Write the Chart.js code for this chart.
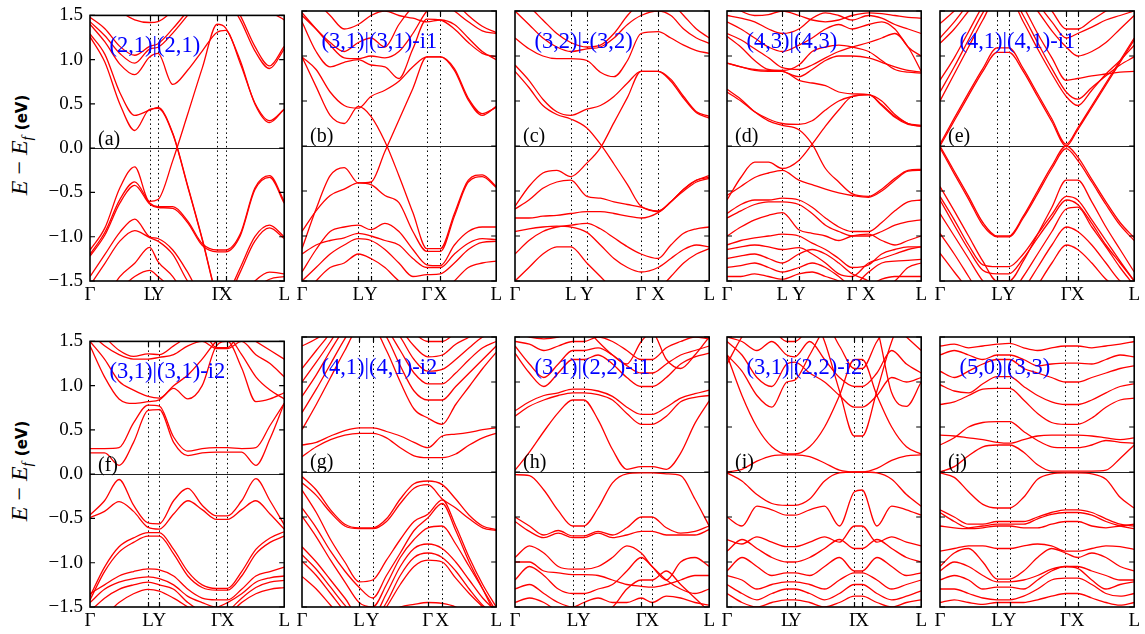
<!DOCTYPE html>
<html>
<head>
<meta charset="utf-8">
<script src="https://cdn.jsdelivr.net/npm/chart.js@4.4.1/dist/chart.umd.min.js"></script>
<style>
html, body { margin: 0; padding: 0; background: #fff; }
body { position: relative; width: 1145px; height: 634px; overflow: hidden; }
canvas { position: absolute; }
.ylab { position: absolute; white-space: nowrap; transform: translate(-50%, -50%) rotate(-90deg);
        font-family: "Liberation Serif", serif; font-size: 24px; color: #000; line-height: 1; }
.ylab .op { margin: 0 6px; font-style: normal; }
.ylab sub { font-size: 15px; vertical-align: -5px; line-height: 0; }
.ylab b { font-family: "DejaVu Sans", sans-serif; font-size: 15px; font-weight: bold; margin-left: 6px; }
</style>
</head>
<body>
<div class="ylab" style="left:19px;top:145px"><i>E</i><span class="op">−</span><i>E</i><sub><i>f</i></sub><b>(eV)</b></div>
<div class="ylab" style="left:19px;top:471px"><i>E</i><span class="op">−</span><i>E</i><sub><i>f</i></sub><b>(eV)</b></div>
<script>
// High-symmetry path labels, shared by every panel
const kLabels = ['Γ', 'L', 'Y', 'Γ', 'X', 'L'];

// Positions of the high-symmetry points along each path (fraction of path length)
const kptsA = [0, 0.307, 0.350, 0.655, 0.698, 1];
const kptsB = [0, 0.290, 0.355, 0.643, 0.713, 1];
const kptsC = [0, 0.287, 0.370, 0.649, 0.737, 1];
const kptsD = [0, 0.285, 0.370, 0.644, 0.729, 1];
const kptsE = [0, 0.294, 0.355, 0.650, 0.709, 1];
const kptsF = [0, 0.299, 0.357, 0.651, 0.708, 1];
const kptsG = [0, 0.294, 0.364, 0.648, 0.722, 1];
const kptsH = [0, 0.297, 0.354, 0.650, 0.706, 1];
const kptsI = [0, 0.308, 0.349, 0.656, 0.696, 1];
const kptsJ = [0, 0.294, 0.359, 0.646, 0.709, 1];

const titles = ['(2,1)|(2,1)', '(3,1)|(3,1)-i1', '(3,2)|-(3,2)', '(4,3)|(4,3)', '(4,1)|(4,1)-i1',
                '(3,1)|(3,1)-i2', '(4,1)|(4,1)-i2', '(3,1)|(2,2)-i1', '(3,1)|(2,2)-i2', '(5,0)|(3,3)'];
const letters = ['(a)', '(b)', '(c)', '(d)', '(e)', '(f)', '(g)', '(h)', '(i)', '(j)'];

// Band energies (eV) sampled along Γ–L–Y–Γ–X–L:
// Γ, 3 points on Γ–L, L, Y, 3 points on Y–Γ, Γ, X, 3 points on X–L, L
const bandsA = [
  [1.26, 0.97, 0.5, 0.2, 0.44, 0.45, 0.16, -0.43, -1.04, -1.7, -1.9, -1.9, -1.9, -1.9, -1.9],
  [1.29, 1.06, 0.63, 0.37, 0.43, 0.46, 0.17, -0.42, -1.03, -1.69, -1.9, -1.9, -1.9, -1.9, -1.9],
  [1.40, 1.2, 0.95, 0.83, 1.03, 1.07, 0.72, 0.88, 1.1, 1.31, 1.33, 0.96, 0.51, 0.31, 0.44],
  [1.43, 1.27, 1.07, 0.96, 1.12, 1.14, 1.3, 1.5, 1.7, 1.8, 1.7, 1.45, 1.1, 0.9, 1.12],
  [1.48, 1.35, 1.15, 1.05, 1.15, 1.18, 1.35, 1.55, 1.75, 1.85, 1.75, 1.5, 1.15, 0.93, 1.15],
  [1.8, 1.7, 1.55, 1.45, 1.42, 1.43, 1.55, 1.7, 1.8, 1.8, 1.8, 1.8, 1.7, 1.55, 1.45],
  [-1.15, -0.9, -0.45, -0.21, -0.6, -0.58, -0.14, 0.38, 0.91, 1.40, 1.36, 0.99, 0.5, 0.29, 0.44],
  [-1.2, -0.95, -0.58, -0.38, -0.62, -0.66, -0.66, -0.82, -1.08, -1.15, -1.15, -0.97, -0.45, -0.31, -0.6],
  [-1.22, -0.98, -0.62, -0.42, -0.63, -0.67, -0.68, -0.84, -1.1, -1.17, -1.17, -0.99, -0.47, -0.33, -0.62],
  [-1.45, -1.2, -0.95, -0.8, -1.0, -1.02, -1.15, -1.4, -1.7, -1.8, -1.7, -1.35, -1.0, -0.87, -1.0],
  [-1.55, -1.3, -1.05, -0.93, -1.01, -1.05, -1.2, -1.5, -1.7, -1.8, -1.75, -1.4, -1.05, -0.9, -1.02],
  [-1.8, -1.7, -1.45, -1.3, -1.12, -1.28, -1.45, -1.7, -1.8, -1.8, -1.8, -1.7, -1.5, -1.4, -1.42],
  [-1.9, -1.8, -1.6, -1.45, -1.38, -1.45, -1.6, -1.8, -1.9, -1.9, -1.9, -1.8, -1.6, -1.48, -1.45]
];
const bandsB = [
  [0.99, 0.66, 0.34, 0.25, 0.44, 0.33, 0.05, -0.33, -0.74, -1.14, -1.14, -0.75, -0.38, -0.32, -0.45],
  [0.99, 0.85, 0.6, 0.45, 0.42, 0.55, 0.62, 0.72, 0.88, 0.99, 0.99, 0.86, 0.53, 0.36, 0.43],
  [-1.14, -0.7, -0.33, -0.24, -0.41, -0.40, -0.06, 0.29, 0.64, 0.99, 0.99, 0.84, 0.51, 0.34, 0.44],
  [-0.95, -0.72, -0.55, -0.48, -0.41, -0.43, -0.55, -0.63, -0.95, -1.17, -1.17, -0.78, -0.4, -0.34, -0.46],
  [1.38, 1.05, 0.88, 0.93, 0.96, 0.9, 0.88, 0.75, 1.08, 1.41, 1.40, 1.3, 1.15, 1.03, 0.99],
  [1.48, 1.3, 1.12, 0.98, 0.97, 1.0, 0.98, 1.05, 1.25, 1.5, 1.6, 1.5, 1.38, 1.28, 1.25],
  [1.45, 1.3, 1.15, 1.05, 1.15, 1.2, 1.1, 1.35, 1.55, 1.7, 1.7, 1.6, 1.45, 1.33, 1.26],
  [1.7, 1.6, 1.45, 1.3, 1.35, 1.45, 1.5, 1.45, 1.42, 1.38, 1.4, 1.35, 1.2, 1.05, 0.96],
  [-1.4, -1.15, -0.95, -0.9, -0.88, -0.93, -0.86, -0.95, -1.15, -1.32, -1.33, -1.1, -0.95, -0.9, -0.9],
  [-1.2, -1.1, -1.05, -1.02, -0.97, -1.0, -1.05, -1.1, -1.25, -1.35, -1.35, -1.2, -1.08, -1.03, -1.04],
  [-1.5, -1.35, -1.2, -1.1, -1.03, -1.05, -1.15, -1.3, -1.45, -1.43, -1.42, -1.3, -1.15, -1.07, -1.06],
  [-1.7, -1.5, -1.35, -1.3, -1.2, -1.25, -1.35, -1.5, -1.6, -1.7, -1.65, -1.5, -1.35, -1.3, -1.28]
];
const bandsC = [
  [0.83, 0.65, 0.45, 0.35, 0.3, 0.2, 0.02, -0.2, -0.43, -0.67, -0.72, -0.62, -0.48, -0.38, -0.33],
  [0.9, 0.73, 0.52, 0.38, 0.34, 0.41, 0.45, 0.55, 0.7, 0.83, 0.83, 0.74, 0.55, 0.38, 0.33],
  [-0.67, -0.45, -0.3, -0.27, -0.34, -0.19, -0.02, 0.26, 0.54, 0.83, 0.83, 0.72, 0.53, 0.37, 0.31],
  [-0.7, -0.6, -0.47, -0.4, -0.38, -0.56, -0.58, -0.62, -0.65, -0.68, -0.73, -0.62, -0.48, -0.38, -0.35],
  [-0.8, -0.8, -0.78, -0.77, -0.75, -0.73, -0.73, -0.75, -0.78, -0.8, -0.74, -0.62, -0.5, -0.4, -0.36],
  [-1.2, -1.05, -0.95, -0.9, -0.88, -0.86, -0.92, -1.02, -1.12, -1.2, -1.25, -1.1, -0.97, -0.92, -0.9],
  [-0.95, -0.92, -0.9, -0.89, -0.9, -0.96, -1.1, -1.25, -1.35, -1.4, -1.35, -1.25, -1.15, -1.1, -1.12],
  [-1.5, -1.35, -1.2, -1.12, -1.12, -1.3, -1.45, -1.6, -1.7, -1.7, -1.6, -1.45, -1.3, -1.2, -1.14],
  [1.2, 1.08, 1.0, 0.97, 0.97, 0.95, 0.82, 0.77, 0.95, 1.25, 1.27, 1.2, 1.12, 1.06, 1.03],
  [1.5, 1.35, 1.2, 1.1, 1.05, 1.08, 1.1, 1.2, 1.35, 1.45, 1.5, 1.45, 1.3, 1.2, 1.14],
  [1.65, 1.55, 1.4, 1.25, 1.15, 1.1, 1.12, 1.25, 1.45, 1.6, 1.7, 1.6, 1.45, 1.3, 1.2]
];
const bandsD = [
  [0.63, 0.52, 0.38, 0.28, 0.23, 0.18, 0.02, -0.25, -0.4, -0.53, -0.56, -0.48, -0.36, -0.27, -0.26],
  [-0.6, -0.35, -0.18, -0.18, -0.25, -0.16, 0.02, 0.22, 0.4, 0.55, 0.57, 0.45, 0.32, 0.24, 0.22],
  [0.6, 0.5, 0.38, 0.3, 0.25, 0.24, 0.28, 0.4, 0.5, 0.55, 0.57, 0.46, 0.33, 0.25, 0.23],
  [0.92, 0.88, 0.84, 0.83, 0.83, 0.73, 0.7, 0.67, 0.6, 0.58, 0.57, 0.5, 0.35, 0.25, 0.22],
  [0.92, 0.88, 0.85, 0.84, 0.83, 0.77, 0.85, 0.95, 1.0, 1.0, 0.98, 0.93, 0.88, 0.84, 0.82],
  [1.22, 1.1, 0.95, 0.85, 0.84, 0.9, 1.05, 1.1, 1.12, 1.1, 1.05, 0.95, 0.85, 0.82, 0.81],
  [1.25, 1.18, 1.08, 0.98, 0.87, 0.85, 0.9, 0.98, 1.05, 1.1, 1.15, 1.2, 1.25, 1.1, 0.83],
  [1.38, 1.3, 1.2, 1.1, 1.05, 1.12, 1.2, 1.3, 1.35, 1.3, 1.35, 1.38, 1.3, 1.1, 1.0],
  [1.45, 1.42, 1.38, 1.3, 1.25, 1.3, 1.42, 1.48, 1.45, 1.4, 1.45, 1.42, 1.35, 1.3, 1.25],
  [1.6, 1.5, 1.45, 1.46, 1.5, 1.45, 1.4, 1.38, 1.4, 1.45, 1.48, 1.47, 1.45, 1.43, 1.42],
  [-0.55, -0.45, -0.35, -0.3, -0.27, -0.38, -0.43, -0.48, -0.52, -0.55, -0.57, -0.5, -0.38, -0.28, -0.27],
  [-0.75, -0.65, -0.6, -0.6, -0.58, -0.6, -0.68, -0.8, -0.9, -0.95, -0.95, -0.85, -0.72, -0.62, -0.6],
  [-0.8, -0.72, -0.65, -0.62, -0.62, -0.65, -0.75, -0.88, -0.95, -1.0, -1.0, -0.95, -0.88, -0.84, -0.82],
  [-1.0, -0.9, -0.82, -0.77, -0.74, -0.93, -0.97, -1.0, -1.05, -1.0, -0.98, -1.05, -1.1, -1.05, -1.0],
  [-1.1, -1.05, -1.02, -1.0, -0.98, -1.0, -1.08, -1.15, -1.25, -1.35, -1.32, -1.2, -1.15, -1.12, -1.12],
  [-1.15, -1.12, -1.1, -1.12, -1.15, -1.13, -1.2, -1.3, -1.42, -1.45, -1.3, -1.25, -1.2, -1.15, -1.12],
  [-1.25, -1.22, -1.2, -1.25, -1.3, -1.2, -1.15, -1.2, -1.3, -1.42, -1.5, -1.6, -1.5, -1.35, -1.3],
  [-1.35, -1.33, -1.3, -1.35, -1.4, -1.35, -1.3, -1.35, -1.45, -1.55, -1.4, -1.3, -1.28, -1.27, -1.26],
  [-1.45, -1.45, -1.42, -1.45, -1.48, -1.42, -1.4, -1.45, -1.5, -1.6, -1.55, -1.48, -1.45, -1.45, -1.45]
];
const bandsE = [
  [0.0, 0.28, 0.56, 0.83, 1.04, 1.04, 0.83, 0.55, 0.27, 0.0, 0.18, 0.43, 0.68, 0.93, 1.18],
  [0.02, 0.31, 0.59, 0.86, 1.09, 1.09, 0.86, 0.58, 0.3, 0.02, 0.2, 0.45, 0.7, 0.95, 1.2],
  [0.5, 0.8, 1.1, 1.4, 1.65, 1.65, 1.38, 1.08, 0.8, 0.55, 0.45, 0.62, 0.8, 0.95, 1.12],
  [0.6, 0.88, 1.18, 1.48, 1.7, 1.7, 1.45, 1.15, 0.86, 0.6, 0.52, 0.65, 0.78, 0.9, 0.99],
  [0.73, 0.98, 1.27, 1.56, 1.8, 1.8, 1.55, 1.25, 0.98, 0.73, 0.75, 0.78, 0.8, 0.82, 0.83],
  [1.14, 1.3, 1.5, 1.7, 1.8, 1.8, 1.7, 1.5, 1.28, 1.1, 1.0, 1.05, 1.15, 1.3, 1.45],
  [1.2, 1.38, 1.58, 1.75, 1.8, 1.8, 1.75, 1.58, 1.38, 1.2, 1.25, 1.32, 1.4, 1.45, 1.5],
  [1.36, 1.5, 1.65, 1.8, 1.9, 1.9, 1.85, 1.7, 1.5, 1.3, 1.3, 1.4, 1.5, 1.6, 1.7],
  [0.0, -0.28, -0.56, -0.85, -1.0, -1.0, -0.78, -0.5, -0.22, 0.0, -0.12, -0.37, -0.62, -0.85, -1.02],
  [-0.02, -0.31, -0.59, -0.88, -1.01, -1.01, -0.8, -0.53, -0.25, -0.03, -0.16, -0.4, -0.65, -0.88, -1.05],
  [-0.45, -0.72, -1.0, -1.28, -1.5, -1.5, -1.28, -0.98, -0.68, -0.38, -0.38, -0.62, -0.9, -1.15, -1.4],
  [-0.56, -0.82, -1.1, -1.32, -1.34, -1.34, -1.2, -0.98, -0.76, -0.56, -0.6, -0.82, -1.05, -1.28, -1.5],
  [-0.6, -0.88, -1.15, -1.38, -1.42, -1.42, -1.25, -1.02, -0.8, -0.6, -0.65, -0.86, -1.1, -1.3, -1.5],
  [-0.75, -1.0, -1.25, -1.5, -1.65, -1.65, -1.45, -1.2, -0.95, -0.7, -0.68, -0.9, -1.12, -1.35, -1.55],
  [-0.97, -1.2, -1.45, -1.7, -1.8, -1.8, -1.6, -1.35, -1.1, -0.9, -0.95, -1.1, -1.3, -1.5, -1.6],
  [-1.19, -1.4, -1.6, -1.8, -1.9, -1.9, -1.8, -1.55, -1.3, -1.1, -1.15, -1.3, -1.48, -1.6, -1.7]
];
const bandsF = [
  [0.24, 0.24, 0.1, 0.36, 0.72, 0.73, 0.36, 0.21, 0.24, 0.25, 0.25, 0.25, 0.1, 0.4, 0.8],
  [0.29, 0.29, 0.3, 0.58, 0.78, 0.77, 0.42, 0.26, 0.29, 0.3, 0.3, 0.29, 0.3, 0.55, 0.8],
  [1.45, 1.1, 0.85, 0.8, 0.82, 0.84, 0.97, 0.85, 1.0, 1.45, 1.5, 1.2, 0.82, 0.85, 0.92],
  [1.5, 1.3, 1.05, 0.95, 0.88, 0.86, 1.0, 1.12, 1.3, 1.5, 1.55, 1.35, 1.1, 0.95, 0.85],
  [1.6, 1.45, 1.35, 1.3, 1.3, 1.32, 1.35, 1.45, 1.5, 1.42, 1.42, 1.5, 1.35, 1.25, 1.1],
  [1.7, 1.55, 1.4, 1.33, 1.36, 1.35, 1.45, 1.55, 1.6, 1.43, 1.43, 1.6, 1.5, 1.4, 1.3],
  [-0.46, -0.3, -0.06, -0.35, -0.55, -0.56, -0.3, -0.16, -0.35, -0.47, -0.47, -0.3, -0.05, -0.3, -0.57],
  [-0.49, -0.42, -0.31, -0.42, -0.6, -0.62, -0.45, -0.3, -0.4, -0.51, -0.51, -0.4, -0.3, -0.45, -0.62],
  [-1.38, -1.05, -0.82, -0.72, -0.66, -0.66, -0.85, -1.1, -1.25, -1.29, -1.29, -1.1, -0.85, -0.72, -0.65],
  [-1.42, -1.1, -0.88, -0.77, -0.7, -0.7, -0.9, -1.15, -1.28, -1.31, -1.31, -1.15, -0.9, -0.77, -0.7],
  [-1.35, -1.25, -1.15, -1.1, -1.07, -1.08, -1.15, -1.3, -1.4, -1.42, -1.42, -1.3, -1.15, -1.1, -1.05],
  [-1.45, -1.3, -1.22, -1.18, -1.16, -1.18, -1.25, -1.38, -1.45, -1.5, -1.45, -1.35, -1.22, -1.17, -1.15],
  [-1.55, -1.4, -1.3, -1.25, -1.22, -1.25, -1.3, -1.45, -1.55, -1.6, -1.55, -1.4, -1.28, -1.22, -1.2],
  [-1.7, -1.6, -1.45, -1.35, -1.3, -1.32, -1.4, -1.5, -1.6, -1.7, -1.6, -1.45, -1.35, -1.3, -1.28]
];
const bandsG = [
  [0.17, 0.28, 0.36, 0.41, 0.43, 0.43, 0.38, 0.27, 0.18, 0.16, 0.16, 0.2, 0.3, 0.38, 0.43],
  [0.3, 0.33, 0.4, 0.46, 0.49, 0.49, 0.45, 0.4, 0.33, 0.27, 0.4, 0.42, 0.44, 0.47, 0.49],
  [0.47, 0.75, 1.05, 1.35, 1.6, 1.6, 1.35, 1.0, 0.7, 0.6, 0.53, 0.75, 0.95, 1.15, 1.33],
  [0.66, 0.92, 1.2, 1.48, 1.7, 1.7, 1.5, 1.18, 0.9, 0.8, 0.8, 0.95, 1.1, 1.25, 1.4],
  [0.84, 1.08, 1.35, 1.6, 1.8, 1.8, 1.6, 1.35, 1.1, 0.98, 0.98, 1.1, 1.25, 1.38, 1.45],
  [1.0, 1.22, 1.45, 1.7, 1.9, 1.9, 1.7, 1.5, 1.25, 1.12, 1.14, 1.25, 1.38, 1.5, 1.55],
  [1.15, 1.35, 1.55, 1.8, 1.9, 1.9, 1.85, 1.6, 1.4, 1.28, 1.3, 1.42, 1.5, 1.6, 1.7],
  [1.4, 1.48, 1.6, 1.8, 1.9, 1.9, 1.9, 1.75, 1.55, 1.45, 1.45, 1.55, 1.65, 1.75, 1.8],
  [-0.05, -0.2, -0.42, -0.58, -0.62, -0.62, -0.52, -0.3, -0.13, -0.1, -0.14, -0.3, -0.48, -0.6, -0.64],
  [-0.12, -0.26, -0.45, -0.6, -0.63, -0.63, -0.55, -0.35, -0.18, -0.14, -0.3, -0.4, -0.52, -0.62, -0.65],
  [-0.2, -0.45, -0.75, -1.0, -1.22, -1.2, -0.98, -0.75, -0.55, -0.47, -0.31, -0.6, -0.95, -1.25, -1.5],
  [-0.4, -0.62, -0.88, -1.1, -1.28, -1.4, -1.15, -0.9, -0.65, -0.51, -0.35, -0.65, -1.0, -1.3, -1.6],
  [-0.49, -0.72, -0.98, -1.22, -1.45, -1.5, -1.25, -0.95, -0.75, -0.62, -0.6, -0.8, -1.05, -1.3, -1.55],
  [-0.83, -1.0, -1.2, -1.4, -1.6, -1.6, -1.35, -1.05, -0.85, -0.8, -0.85, -1.0, -1.2, -1.4, -1.55],
  [-0.92, -1.08, -1.28, -1.48, -1.65, -1.65, -1.45, -1.15, -0.95, -0.9, -0.95, -1.1, -1.3, -1.48, -1.6],
  [-0.99, -1.15, -1.35, -1.55, -1.7, -1.7, -1.5, -1.25, -1.05, -0.98, -1.0, -1.18, -1.35, -1.5, -1.65],
  [-1.16, -1.3, -1.48, -1.65, -1.8, -1.8, -1.6, -1.5, -1.47, -1.45, -1.46, -1.5, -1.6, -1.7, -1.8]
];
const bandsH = [
  [0.02, 0.22, 0.45, 0.66, 0.8, 0.8, 0.58, 0.25, 0.03, 0.06, 0.06, 0.03, 0.21, 0.54, 0.79],
  [0.62, 0.73, 0.8, 0.85, 0.88, 0.88, 0.86, 0.8, 0.65, 0.53, 0.53, 0.62, 0.78, 0.83, 0.85],
  [0.68, 0.78, 0.85, 0.88, 0.92, 0.92, 0.9, 0.84, 0.72, 0.64, 0.64, 0.72, 0.82, 0.87, 0.91],
  [1.32, 1.1, 0.95, 1.1, 1.25, 1.25, 1.3, 1.2, 1.05, 0.95, 0.95, 1.05, 1.2, 1.28, 1.32],
  [1.4, 1.2, 1.05, 1.2, 1.35, 1.35, 1.38, 1.3, 1.18, 1.1, 1.1, 1.2, 1.3, 1.35, 1.4],
  [1.45, 1.42, 1.35, 1.4, 1.45, 1.45, 1.5, 1.45, 1.35, 1.25, 1.25, 1.38, 1.45, 1.5, 1.48],
  [1.55, 1.5, 1.48, 1.5, 1.55, 1.6, 1.45, 1.3, 1.2, 1.45, 1.55, 1.25, 1.15, 1.3, 1.5],
  [-0.03, -0.04, -0.2, -0.43, -0.6, -0.6, -0.4, -0.12, -0.02, -0.01, -0.01, -0.02, -0.04, -0.3, -0.6],
  [-0.5, -0.6, -0.7, -0.65, -0.71, -0.71, -0.66, -0.7, -0.62, -0.5, -0.5, -0.62, -0.68, -0.66, -0.6],
  [-0.55, -0.66, -0.73, -0.68, -0.73, -0.73, -0.68, -0.73, -0.7, -0.66, -0.66, -0.7, -0.7, -0.7, -0.64],
  [-0.95, -0.82, -0.9, -1.05, -1.08, -1.08, -1.05, -0.95, -0.82, -0.9, -1.05, -1.2, -1.0, -0.95, -1.05],
  [-1.0, -1.0, -1.1, -1.12, -1.14, -1.14, -1.15, -1.2, -1.25, -1.27, -1.28, -1.25, -1.2, -1.15, -1.15],
  [-1.2, -1.05, -1.15, -1.3, -1.35, -1.35, -1.3, -1.25, -1.1, -0.95, -1.05, -1.2, -1.3, -1.35, -1.3],
  [-1.3, -1.25, -1.35, -1.45, -1.5, -1.45, -1.4, -1.45, -1.45, -1.4, -1.45, -1.38, -1.4, -1.45, -1.48],
  [-1.45, -1.4, -1.45, -1.55, -1.6, -1.6, -1.55, -1.5, -1.3, -1.2, -1.2, -1.1, -1.25, -1.4, -1.55]
];
const bandsI = [
  [0.0, 0.03, 0.12, 0.18, 0.19, 0.19, 0.17, 0.1, 0.02, 0.0, 0.0, 0.04, 0.13, 0.18, 0.19],
  [1.3, 0.85, 0.5, 0.28, 0.2, 0.2, 0.28, 0.5, 0.85, 1.25, 1.25, 0.85, 0.5, 0.28, 0.2],
  [1.9, 1.9, 1.9, 1.9, 1.9, 1.9, 1.8, 1.45, 0.9, 0.4, 0.4, 0.9, 1.45, 1.8, 1.9],
  [1.3, 1.12, 0.85, 0.72, 1.0, 1.02, 1.3, 1.6, 1.8, 1.9, 1.9, 1.6, 0.88, 0.73, 1.0],
  [1.45, 1.3, 1.05, 0.95, 1.2, 1.22, 1.1, 1.0, 0.85, 0.72, 0.72, 0.85, 1.05, 1.0, 1.05],
  [1.5, 1.45, 1.35, 1.45, 1.3, 1.28, 1.45, 1.25, 1.05, 0.95, 0.95, 1.1, 1.35, 1.2, 1.1],
  [1.2, 1.5, 1.7, 1.6, 1.45, 1.45, 1.6, 1.65, 1.4, 1.15, 1.15, 1.45, 1.65, 1.5, 1.35],
  [-0.01, -0.1, -0.25, -0.35, -0.37, -0.37, -0.3, -0.1, -0.01, 0.0, 0.0, -0.01, -0.08, -0.25, -0.38],
  [-0.5, -0.6, -0.38, -0.42, -0.48, -0.48, -0.42, -0.38, -0.6, -0.22, -0.2, -0.6, -0.38, -0.42, -0.48],
  [-0.75, -0.8, -0.72, -0.78, -0.83, -0.83, -0.78, -0.72, -0.78, -0.6, -0.6, -0.78, -0.72, -0.78, -0.82],
  [-0.88, -0.75, -0.85, -0.95, -1.0, -1.0, -0.95, -0.85, -0.75, -0.85, -0.85, -0.75, -0.85, -0.95, -1.0],
  [-1.1, -0.95, -1.05, -1.15, -1.12, -1.12, -1.15, -1.05, -0.95, -1.1, -1.1, -0.95, -1.05, -1.15, -1.12],
  [-1.15, -1.2, -1.3, -1.25, -1.22, -1.22, -1.25, -1.3, -1.2, -1.12, -1.12, -1.2, -1.3, -1.25, -1.2],
  [-1.25, -1.35, -1.42, -1.35, -1.3, -1.3, -1.35, -1.42, -1.35, -1.25, -1.25, -1.35, -1.42, -1.38, -1.32],
  [-1.35, -1.45, -1.5, -1.45, -1.42, -1.42, -1.45, -1.5, -1.45, -1.38, -1.38, -1.45, -1.5, -1.45, -1.42]
];
const bandsJ = [
  [0.0, 0.06, 0.18, 0.28, 0.3, 0.3, 0.22, 0.08, 0.01, 0.01, 0.01, 0.01, 0.02, 0.15, 0.3],
  [0.41, 0.4, 0.38, 0.36, 0.33, 0.32, 0.36, 0.4, 0.41, 0.41, 0.41, 0.4, 0.38, 0.36, 0.38],
  [0.3, 0.38, 0.5, 0.55, 0.56, 0.56, 0.45, 0.35, 0.28, 0.27, 0.27, 0.3, 0.35, 0.33, 0.32],
  [0.75, 0.78, 0.85, 0.92, 0.93, 0.93, 0.8, 0.65, 0.55, 0.53, 0.53, 0.6, 0.72, 0.8, 0.82],
  [0.97, 0.9, 0.88, 0.98, 1.06, 1.06, 0.95, 0.85, 0.78, 0.75, 0.75, 0.8, 0.88, 0.95, 0.98],
  [1.12, 1.05, 1.12, 1.2, 1.25, 1.25, 1.15, 1.1, 1.05, 1.0, 1.0, 1.05, 1.1, 1.15, 1.18],
  [1.3, 1.35, 1.3, 1.25, 1.3, 1.3, 1.25, 1.18, 1.2, 1.21, 1.21, 1.2, 1.25, 1.3, 1.28],
  [1.4, 1.42, 1.38, 1.4, 1.42, 1.43, 1.38, 1.35, 1.38, 1.4, 1.4, 1.38, 1.4, 1.42, 1.45],
  [-0.01, -0.06, -0.22, -0.36, -0.4, -0.4, -0.28, -0.08, -0.02, -0.01, -0.01, -0.02, -0.08, -0.28, -0.4],
  [-0.42, -0.5, -0.58, -0.58, -0.55, -0.55, -0.55, -0.5, -0.45, -0.42, -0.42, -0.45, -0.52, -0.58, -0.6],
  [-0.45, -0.55, -0.62, -0.6, -0.58, -0.58, -0.58, -0.52, -0.47, -0.45, -0.45, -0.48, -0.55, -0.6, -0.63],
  [-0.6, -0.62, -0.63, -0.62, -0.6, -0.6, -0.62, -0.62, -0.58, -0.55, -0.55, -0.6, -0.62, -0.6, -0.58],
  [-0.88, -0.85, -0.82, -0.82, -0.85, -0.85, -0.82, -0.8, -0.82, -0.88, -0.88, -0.85, -0.82, -0.83, -0.86],
  [-1.05, -0.9, -0.85, -1.0, -1.19, -1.19, -1.1, -0.95, -0.85, -0.9, -0.95, -0.9, -0.95, -1.05, -1.1],
  [-1.1, -1.0, -1.05, -1.15, -1.22, -1.22, -1.2, -1.15, -1.08, -1.05, -1.05, -1.1, -1.15, -1.2, -1.2],
  [-1.2, -1.15, -1.2, -1.3, -1.28, -1.28, -1.3, -1.2, -1.1, -1.05, -1.07, -1.2, -1.3, -1.25, -1.22],
  [-1.3, -1.3, -1.35, -1.4, -1.42, -1.42, -1.38, -1.3, -1.2, -1.18, -1.18, -1.25, -1.35, -1.38, -1.35],
  [-1.45, -1.42, -1.45, -1.47, -1.45, -1.45, -1.45, -1.42, -1.38, -1.35, -1.35, -1.4, -1.45, -1.48, -1.45]
];

const panels = [
  { k: kptsA, bands: bandsA }, { k: kptsB, bands: bandsB }, { k: kptsC, bands: bandsC },
  { k: kptsD, bands: bandsD }, { k: kptsE, bands: bandsE }, { k: kptsF, bands: bandsF },
  { k: kptsG, bands: bandsG }, { k: kptsH, bands: bandsH }, { k: kptsI, bands: bandsI },
  { k: kptsJ, bands: bandsJ }
];

// Page layout of the 2 x 5 grid of panels
const COL_X = [90, 302, 515, 727, 940];
const ROW_Y = [11, 337];
const W = 195, H = 270;
const PL = 62, PT = 14, PR = 8, PB = 28;
const SERIF = '"Liberation Serif", "Times New Roman", serif';

// k sampling along the path: 4 steps on each long leg, 1 step on L–Y and Γ–X
function pathSamples(t) {
  const steps = [4, 1, 4, 1, 4];
  const out = [];
  for (let s = 0; s < 5; s++) {
    for (let j = 0; j < steps[s]; j++) out.push(t[s] + (t[s + 1] - t[s]) * j / steps[s]);
  }
  out.push(t[5]);
  return out;
}

const fmtE = v => (v < 0 ? '\u2212' : '') + Math.abs(v).toFixed(1);

// Frame, inward ticks, Fermi level, dotted k-point markers and panel captions
const decor = {
  id: 'decor',
  beforeDatasetsDraw(chart, args, o) {
    const { ctx, chartArea: a, scales: { x, y } } = chart;
    ctx.save();
    ctx.strokeStyle = '#000';
    ctx.lineWidth = 1;
    ctx.setLineDash([1.5, 3]);
    o.k.slice(1, -1).forEach(v => {
      const px = Math.round(x.getPixelForValue(v)) + 0.5;
      ctx.beginPath(); ctx.moveTo(px, a.top); ctx.lineTo(px, a.bottom); ctx.stroke();
    });
    ctx.setLineDash([]);
    ctx.strokeStyle = '#222';
    ctx.lineWidth = 1.2;
    const y0 = Math.round(y.getPixelForValue(0)) + 0.5;
    ctx.beginPath(); ctx.moveTo(a.left, y0); ctx.lineTo(a.right, y0); ctx.stroke();
    ctx.restore();
  },
  afterDatasetsDraw(chart, args, o) {
    const { ctx, chartArea: a, scales: { x, y } } = chart;
    ctx.save();
    ctx.strokeStyle = '#000';
    ctx.lineWidth = 1.2;
    const tl = 5;
    y.ticks.forEach(t => {
      const py = y.getPixelForValue(t.value);
      ctx.beginPath();
      ctx.moveTo(a.left, py); ctx.lineTo(a.left + tl, py);
      ctx.moveTo(a.right, py); ctx.lineTo(a.right - tl, py);
      ctx.stroke();
    });
    o.k.slice(1, -1).forEach(v => {
      const px = Math.round(x.getPixelForValue(v)) + 0.5;
      ctx.beginPath();
      ctx.moveTo(px, a.top); ctx.lineTo(px, a.top + tl);
      ctx.moveTo(px, a.bottom); ctx.lineTo(px, a.bottom - tl);
      ctx.stroke();
    });
    ctx.lineWidth = 1.6;
    ctx.strokeRect(a.left, a.top, a.right - a.left, a.bottom - a.top);
    ctx.restore();
  },
  afterDraw(chart, args, o) {
    const { ctx, chartArea: a, scales: { y } } = chart;
    ctx.save();
    ctx.textBaseline = 'middle';
    ctx.textAlign = 'left';
    ctx.fillStyle = '#0000ff';
    ctx.font = '22.5px ' + SERIF;
    ctx.fillText(o.title, a.left + 0.1 * (a.right - a.left), y.getPixelForValue(1.15));
    ctx.fillStyle = '#000';
    ctx.font = '20px ' + SERIF;
    ctx.fillText(o.letter, a.left + 8, y.getPixelForValue(0.1));
    ctx.restore();
  }
};

panels.forEach((p, i) => {
  const row = Math.floor(i / 5), col = i % 5;
  const cv = document.createElement('canvas');
  cv.width = PL + W + PR;
  cv.height = PT + H + PB;
  cv.style.left = (COL_X[col] - PL) + 'px';
  cv.style.top = (ROW_Y[row] - PT) + 'px';
  cv.style.width = cv.width + 'px';
  cv.style.height = cv.height + 'px';
  document.body.appendChild(cv);
  const ks = pathSamples(p.k);
  new Chart(cv, {
    type: 'line',
    data: {
      datasets: p.bands.map(b => ({
        data: b.map((e, j) => ({ x: ks[j], y: e })),
        borderColor: '#ff0000',
        borderWidth: 1.3,
        pointRadius: 0,
        cubicInterpolationMode: 'monotone',
        fill: false,
        clip: 0
      }))
    },
    options: {
      responsive: false,
      animation: false,
      devicePixelRatio: 1,
      events: [],
      layout: { padding: { left: 0, top: PT, right: PR, bottom: 0 } },
      plugins: {
        legend: { display: false },
        tooltip: { enabled: false },
        decor: { k: p.k, title: titles[i], letter: letters[i] }
      },
      scales: {
        x: {
          type: 'linear', min: 0, max: 1,
          grid: { display: false, drawTicks: false },
          border: { display: false },
          afterBuildTicks: s => { s.ticks = p.k.map(v => ({ value: v })); },
          afterFit: s => { s.height = PB; },
          ticks: {
            autoSkip: false, maxRotation: 0, minRotation: 0, padding: 3, color: '#000',
            font: { family: SERIF, size: 19 },
            callback: (v, idx) => kLabels[idx]
          }
        },
        y: {
          min: -1.5, max: 1.5,
          grid: { display: false, drawTicks: false },
          border: { display: false },
          afterFit: s => { s.width = PL; },
          ticks: {
            display: col === 0, stepSize: 0.5, padding: 7, color: '#000',
            font: { family: SERIF, size: 19 },
            callback: v => fmtE(v)
          }
        }
      }
    },
    plugins: [decor]
  });
});
</script>
</body>
</html>
